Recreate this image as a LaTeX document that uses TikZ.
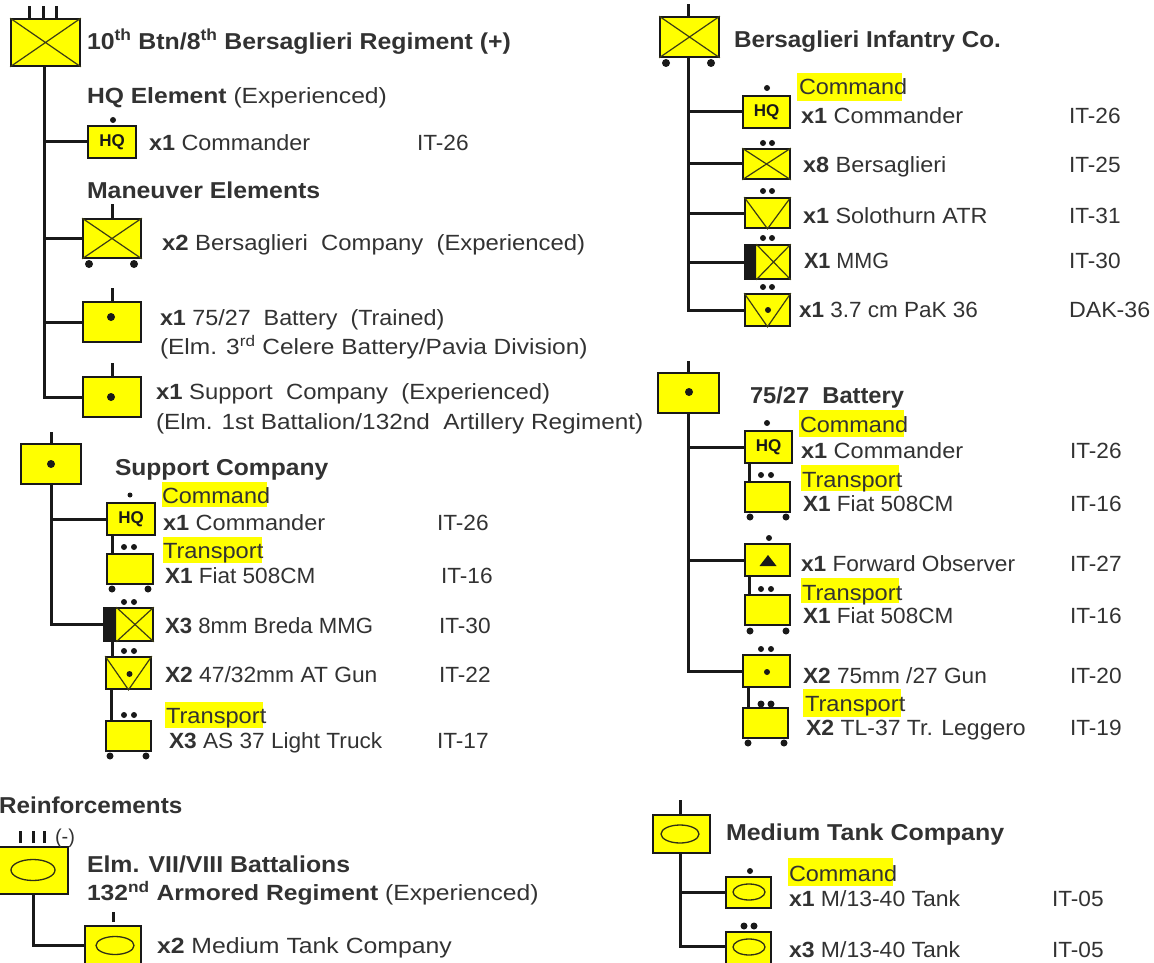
\documentclass[tikz,border=0pt]{standalone}
\usepackage{graphicx}
\usepackage{fontspec}
\setmainfont{Liberation Sans}
\definecolor{uyel}{RGB}{255,255,0}
\definecolor{ink}{RGB}{25,25,25}
\definecolor{txtc}{RGB}{50,50,50}
\newcounter{lc}
\newcommand\ub[5]{\node[unit,minimum width=#4pt,minimum height=#5pt] (#1) at ({#2+#4/2},{#3+#5/2}) {};}
\newcommand\lab[4][1]{\stepcounter{lc}\node[lbl] (t\arabic{lc}) at (#2,#3) {\scalebox{#1}[1]{#4}};}
\newcommand\hb[4][1]{\stepcounter{lc}\node[lblb] (t\arabic{lc}) at (#2,#3) {\scalebox{#1}[1]{#4}};}
\newcommand\cmd[6]{\fill[uyel] (#1,#2) rectangle (#3,#4);\lab[1.065]{#5}{#6}{Command}}
\newcommand\trn[6]{\fill[uyel] (#1,#2) rectangle (#3,#4);\lab[1.075]{#5}{#6}{Transport}}
\newcommand\itl[3]{\lab[1.03]{#1}{#2}{#3}}
\newcommand\dt[3]{\fill[ink] (#1,#2) circle[radius=#3];}
\newcommand\xs[1]{\draw[thin sym] (#1.north west) -- (#1.south east) (#1.north east) -- (#1.south west);}
\newcommand\vs[1]{\draw[thin sym] (#1.north west) -- (#1.south) -- (#1.north east);}
\newcommand\hq[1]{\node[hqt] (#1t) at (#1.center) {HQ};}
\newcommand\mg[2]{\fill[ink,rounded corners=1.5pt] (#1.north west) rectangle ([xshift=#2pt]#1.south west);
  \draw[thin sym] ([xshift=#2pt]#1.north west) -- (#1.south east) ([xshift=#2pt]#1.south west) -- (#1.north east);}
\tikzset{
  unit/.style={draw=ink,fill=uyel,line width=1.6pt,inner sep=0pt,rectangle},
  conn/.style={draw=ink,line width=3pt},
  thin sym/.style={draw=ink!85!uyel,line width=1.2pt},
  oval/.style={draw=ink!90!uyel,line width=1.3pt},
  lbl/.style={anchor=base west,inner sep=0pt,outer sep=0pt,text=txtc,font=\fontsize{22}{24}\selectfont},
  lblb/.style={lbl,font=\fontsize{23}{25}\selectfont\bfseries},
  hqt/.style={inner sep=0pt,text=ink,font=\fontsize{17}{20}\selectfont\bfseries},
}
\begin{document}
\begin{tikzpicture}[x=1pt,y=-1pt]
\useasboundingbox (0,0) rectangle (1154,963);
\clip (0,0) rectangle (1154,963);
% ---- Battalion
\ub{ma}{11}{19}{69}{47}
\ub{ahq}{88}{126}{48}{32}
\ub{aco}{83}{219}{58}{39}
\ub{abt}{83}{302}{58}{40}
\ub{asp}{83}{377}{58}{40}
\foreach \s in {-16,-2.5,10.5} \draw[conn] ([xshift=\s pt]ma.north) -- ++(0,-12);
\draw[conn] ([xshift=-1pt]ma.south) |- (ahq.west);
\draw[conn] ([xshift=-1pt]ma.south) |- (aco.west);
\draw[conn] ([xshift=-1pt]ma.south) |- (abt.west);
\draw[conn] ([xshift=-1pt]ma.south) |- (asp.west);
\xs{ma}\hq{ahq}\xs{aco}
\dt{113}{120}{3}\dt{89}{264}{4}\dt{134}{264}{4}
\draw[conn] (aco.north) -- ++(0,-14);
\draw[conn] (abt.north) -- ++(0,-13);
\draw[conn] (asp.north) -- ++(0,-13);
\dt{111}{317}{4}\dt{111}{397}{4}
\hb[1.08]{87}{50}{10\textsuperscript{th} Btn/8\textsuperscript{th} Bersaglieri Regiment (+)}
\lab[1.12]{87}{104}{\textbf{HQ Element} (Experienced)}
\lab[1.063]{149}{150}{\textbf{x1} Commander}\itl{417}{150}{IT-26}
\hb[1.08]{87}{198}{Maneuver Elements}
\lab[1.085]{162}{250}{\textbf{x2} Bersaglieri\ \ Company\ \ (Experienced)}
\lab[1.06]{160}{325}{\textbf{x1} 75/27\ \ Battery\ \ (Trained)}
\lab[1.113]{160}{354}{(Elm. 3\textsuperscript{rd} Celere Battery/Pavia Division)}
\lab[1.085]{156}{399}{\textbf{x1} Support\ \ Company\ \ (Experienced)}
\lab[1.105]{156}{429}{(Elm. 1st Battalion/132nd\ \ Artillery Regiment)}
% ---- Support company
\ub{mb}{21}{444}{60}{40}
\ub{bhq}{107}{503}{48}{32}
\ub{btr}{107}{554}{46}{30}
\ub{bmg}{104}{608}{49}{33}
\ub{bat}{106}{657}{45}{32}
\ub{bt2}{106}{721}{45}{30}
\draw[conn] (mb.north) -- ++(0,-11);
\draw[conn] (mb.south) |- (bhq.west);
\draw[conn] (mb.south) |- (bmg.west);
\draw[conn] ([xshift=-19pt]bhq.south) -- ([xshift=-18pt]btr.north);
\draw[conn] ([xshift=-16.5pt]bmg.south) -- ([xshift=-16.5pt]bat.north);
\draw[conn] ([xshift=-17.5pt]bat.south) -- ([xshift=-17.5pt]bt2.north);
\hq{bhq}\mg{bmg}{13}\vs{bat}
\dt{51}{464}{4}\dt{130}{495}{2.5}
\foreach \y in {547,602,651,715} {\dt{124}{\y}{3}\dt{134}{\y}{3}}
\dt{112}{589}{3.5}\dt{148}{589}{3.5}\dt{110}{756}{3.5}\dt{146}{756}{3.5}\dt{129.5}{674}{3}
\hb[1.07]{115}{475}{Support Company}
\cmd{162}{482}{267}{507}{162}{503}
\lab[1.07]{163}{530}{\textbf{x1} Commander}\itl{437}{530}{IT-26}
\trn{163}{537}{262}{563}{163}{558}
\lab[1.025]{165}{583}{\textbf{X1} Fiat 508CM}\itl{441}{583}{IT-16}
\lab[1.007]{165}{633}{\textbf{X3} 8mm Breda MMG}\itl{439}{633}{IT-30}
\lab[1.036]{165}{682}{\textbf{X2} 47/32mm AT Gun}\itl{439}{682}{IT-22}
\trn{165}{702}{263}{728}{166}{723}
\lab[1.03]{169}{748}{\textbf{X3} AS 37 Light Truck}\itl{437}{748}{IT-17}
% ---- Reinforcements
\ub{mc}{-2}{847}{70}{47}
\ub{cco}{85}{926}{56}{60}
\foreach \s in {-13,0,11} \draw[conn] ([xshift=\s pt,yshift=3pt]mc.north) -- ++(0,-12);
\draw[conn] (mc.south) |- (cco.west|-0,945);
\draw[conn] (cco.north) ++(0,-3) -- ++(0,-10);
\draw[oval] (33,870) ellipse[x radius=22,y radius=10.5];
\draw[oval] (115,945.5) ellipse[x radius=19,y radius=9];
\hb[1.055]{-1}{813}{Reinforcements}
\stepcounter{lc}\node[lbl,font=\fontsize{20}{22}\selectfont] (t\arabic{lc}) at (55,843) {(-)};
\hb[1.08]{87}{872}{Elm. VII/VIII Battalions}
\lab[1.12]{87}{900}{\textbf{132\textsuperscript{nd} Armored Regiment} (Experienced)}
\lab[1.127]{157}{953}{\textbf{x2} Medium Tank Company}
% ---- Infantry company
\ub{md}{660}{17}{59}{40}
\ub{dhq}{743}{96}{47}{32}
\ub{dbe}{743}{149}{47}{30}
\ub{dso}{745}{198}{45}{30}
\ub{dmg}{745}{245}{45}{34}
\ub{dat}{745}{294}{45}{32}
\draw[conn] ([xshift=-1.5pt]md.north) -- ++(0,-12);
\foreach \n in {dhq,dbe,dso,dmg,dat} \draw[conn] ([xshift=-1.5pt]md.south) |- (\n.west);
\xs{md}\hq{dhq}\xs{dbe}\vs{dso}\mg{dmg}{12}\vs{dat}
\dt{666}{63}{4}\dt{711}{63}{4}\dt{767}{88}{3}\dt{768}{310}{3}
\foreach \y in {143,191,238,287} {\dt{763}{\y}{3}\dt{772}{\y}{3}}
\hb[1.055]{734}{48}{Bersaglieri Infantry\ Co.}
\cmd{797}{73}{902}{101}{799}{95}
\lab[1.07]{801}{124}{\textbf{x1} Commander}\itl{1069}{124}{IT-26}
\lab[1.066]{803}{172}{\textbf{x8} Bersaglieri}\itl{1069}{172}{IT-25}
\lab[1.065]{803}{223}{\textbf{x1} Solothurn ATR}\itl{1069}{223}{IT-31}
\lab[0.98]{804}{268}{\textbf{X1} MMG}\itl{1069}{268}{IT-30}
\lab[1.023]{799}{317}{\textbf{x1} 3.7 cm PaK 36}\lab[1.055]{1069}{317}{DAK-36}
% ---- Battery
\ub{me}{658}{373}{61}{40}
\ub{ehq}{745}{431}{47}{32}
\ub{etr}{745}{482}{45}{30}
\ub{efo}{745}{544}{45}{32}
\ub{et2}{745}{595}{45}{30}
\ub{egn}{743}{655}{47}{32}
\ub{et3}{743}{708}{45}{30}
\draw[conn] ([xshift=-0.5pt]me.north) -- ++(0,-11);
\foreach \n in {ehq,efo,egn} \draw[conn] ([xshift=-0.5pt]me.south) |- (\n.west);
\draw[conn] ([xshift=-19pt]ehq.south) -- ([xshift=-18pt]etr.north);
\draw[conn] ([xshift=-18pt]efo.south) -- ([xshift=-18pt]et2.north);
\draw[conn] ([xshift=-18.5pt]egn.south) -- ([xshift=-17.5pt]et3.north);
\hq{ehq}
\fill[ink] (759.5,566) -- (776.5,566) -- (768,555) -- cycle;
\dt{689}{392}{4}\dt{767}{423}{3}\dt{769}{538}{3}\dt{767}{672}{3}
\foreach \y in {475,589,649} {\dt{761}{\y}{3}\dt{771}{\y}{3}}
\dt{761}{704}{3.5}\dt{771}{704}{3.5}
\dt{750}{517}{3.5}\dt{786}{517}{3.5}\dt{750}{631}{3.5}\dt{786}{631}{3.5}\dt{748}{743}{3.5}\dt{784}{743}{3.5}
\hb[1.03]{750}{403}{75/27\ \ Battery}
\cmd{799}{410}{904}{437}{800}{432}
\lab[1.07]{801}{458}{\textbf{x1} Commander}\itl{1070}{458}{IT-26}
\trn{801}{465}{899}{491}{802}{487}
\lab[1.025]{803}{511}{\textbf{X1} Fiat 508CM}\itl{1070}{511}{IT-16}
\lab[1.03]{801}{571}{\textbf{x1} Forward Observer}\itl{1070}{571}{IT-27}
\trn{801}{578}{899}{603}{802}{600}
\lab[1.025]{803}{623}{\textbf{X1} Fiat 508CM}\itl{1070}{623}{IT-16}
\lab[1.03]{803}{683}{\textbf{X2} 75mm /27 Gun}\itl{1070}{683}{IT-20}
\trn{803}{689}{901}{717}{805}{711}
\lab[1.045]{806}{735}{\textbf{X2} TL-37 Tr. Leggero}\itl{1070}{735}{IT-19}
% ---- Tank company
\ub{mf}{653}{815}{57}{38}
\ub{fcm}{726}{877}{45}{31}
\ub{fpl}{726}{932}{45}{40}
\draw[conn] ([xshift=-1.5pt]mf.north) -- ++(0,-14);
\draw[conn] ([xshift=-1.5pt]mf.south) |- (fcm.west);
\draw[conn] ([xshift=-1.5pt]mf.south) |- (fpl.west|-0,946);
\draw[oval] (680,834) ellipse[x radius=19,y radius=9];
\draw[oval] (749,892) ellipse[x radius=16,y radius=8];
\draw[oval] (749,947) ellipse[x radius=16,y radius=8];
\dt{750}{871}{3}\dt{744}{926}{3.5}\dt{754}{926}{3.5}
\hb[1.085]{726}{840}{Medium Tank Company}
\cmd{788}{858}{893}{886}{789}{881}
\lab[1.045]{789}{906}{\textbf{x1} M/13-40 Tank}\itl{1052}{906}{IT-05}
\lab[1.045]{789}{957}{\textbf{x3} M/13-40 Tank}\itl{1052}{957}{IT-05}
\end{tikzpicture}
\end{document}
